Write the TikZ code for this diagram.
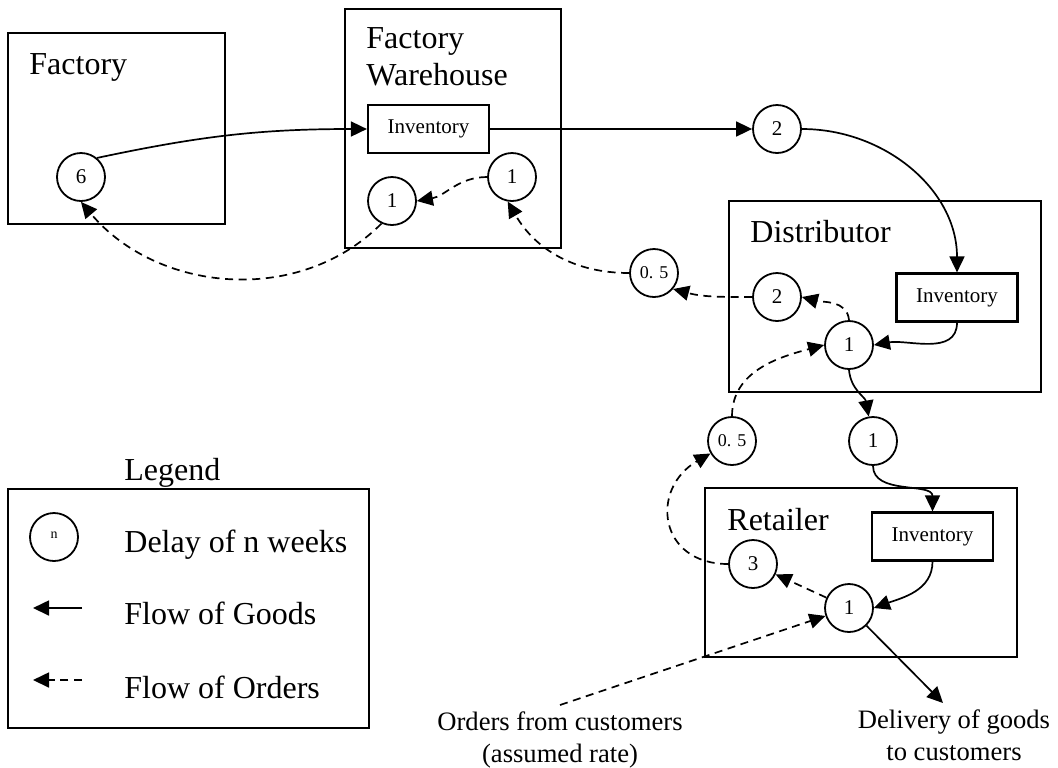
\documentclass[tikz,border=0pt]{standalone}
\usepackage{fontspec}
\setmainfont{Liberation Serif}
\usetikzlibrary{arrows.meta}

\begin{document}
\begin{tikzpicture}[x=0.5pt,y=0.5pt,
  unitbox/.style={line width=1.3pt},
  stockbox/.style={draw,line width=1.1pt,minimum width=60.5pt,minimum height=24pt,inner sep=0pt,font=\fontsize{10.5}{12}\selectfont},
  delay/.style={draw,circle,line width=0.9pt,minimum size=24pt,inner sep=0pt,font=\fontsize{10.5}{12}\selectfont},
  halfdelay/.style={delay,font=\fontsize{9}{10}\selectfont},
  boxlabel/.style={anchor=base west,inner sep=0pt,align=left,font=\fontsize{16}{18.5}\selectfont},
  endnote/.style={anchor=north,align=center,inner sep=3pt,font=\fontsize{13.3}{16}\selectfont},
  goods/.style={line width=0.85pt,-{Triangle[length=8pt,width=7.5pt]}},
  orders/.style={goods,dash pattern=on 4pt off 2.8pt}]
  \useasboundingbox (0,0) rectangle (1058,-767);

  % the four units of the chain
  \draw[unitbox] (8,-33) rectangle (225,-224);
  \draw[unitbox] (345,-9) rectangle (561,-248);
  \draw[unitbox] (729,-201) rectangle (1041,-392);
  \draw[unitbox] (705,-488) rectangle (1017,-657);
  \node[boxlabel] (facName) at (29,-74) {Factory};
  \node[boxlabel] (fwName) at (366,-85) {Factory\\Warehouse};
  \node[boxlabel] (distName) at (750,-242) {Distributor};
  \node[boxlabel] (retName) at (727,-530) {Retailer};

  % stocks
  \node[stockbox] (fwInv) at (428.5,-129) {Inventory};
  \node[stockbox] (distInv) at (957,-297.5) {Inventory};
  \node[stockbox] (retInv) at (932.5,-536.5) {Inventory};

  % delays (weeks)
  \node[delay] (facDelay) at (81,-177) {6};
  \node[delay] (fwOrdIn) at (392,-201) {1};
  \node[delay] (fwOrdOut) at (512,-177) {1};
  \node[delay] (fwShip) at (777,-129) {2};
  \node[halfdelay] (distMail) at (654,-273) {0. 5};
  \node[delay] (distOrd) at (777,-297) {2};
  \node[delay] (distOut) at (849,-345) {1};
  \node[delay] (distShip) at (873,-441) {1};
  \node[halfdelay] (retMail) at (732,-441) {0. 5};
  \node[delay] (retOrd) at (753,-564) {3};
  \node[delay] (retOut) at (849,-608) {1};

  \node[endnote] (custOrders) at (560,-705) {Orders from customers\\(assumed rate)};
  \node[endnote] (custGoods) at (954,-703) {Delivery of goods\\to customers};

  % goods going downstream
  \draw[goods] (facDelay.50) to[out=12,in=180] (fwInv.west);
  \draw[goods] (fwInv.east) -- (fwShip.west);
  \draw[goods] (fwShip.east) to[out=0,in=90] (distInv.north);
  \draw[goods] (distInv.south) to[out=-90,in=10] (distOut.east);
  \draw[goods] (distOut.south) to[out=-85,in=100] (distShip);
  \draw[goods] (distShip.south) to[out=-90,in=90] (retInv.north);
  \draw[goods] (retInv.south) to[out=-90,in=20] (retOut.east);
  \draw[goods] (retOut) -- ([xshift=-5.5pt]custGoods.north);

  % orders going upstream
  \draw[orders] (custOrders.north) -- (retOut);
  \draw[orders] (retOut) -- (retOrd);
  \draw[orders] (retOrd.west) to[out=180,in=210,looseness=1.6] (retMail);
  \draw[orders] (retMail.north) to[out=90,in=195] (distOut.west);
  \draw[orders] (distOut.north) to[out=95,in=-15] (distOrd.east);
  \draw[orders] (distOrd.west) to[out=180,in=-15] (distMail.-40);
  \draw[orders] (distMail.west) to[out=180,in=-60] (fwOrdOut.-100);
  \draw[orders] (fwOrdOut.west) to[out=180,in=10] (fwOrdIn.east);
  \draw[orders] (fwOrdIn.-115) to[out=-135,in=-50] (facDelay.south);

  % legend
  \node[boxlabel] (keyTitle) at (124,-480) {Legend};
  \draw[unitbox] (8,-489) rectangle (369,-728);
  \node[delay,font=\fontsize{7}{8}\selectfont] (keyDelay) at (54,-537) {\raisebox{2pt}{n}};
  \node[boxlabel] (keyDelayText) at (124,-552) {Delay of n weeks};
  \coordinate (keyGoodsA) at (82,-608);
  \coordinate (keyGoodsB) at (33,-608);
  \draw[goods] (keyGoodsA) -- (keyGoodsB);
  \node[boxlabel] (keyGoodsText) at (124,-624) {Flow of Goods};
  \coordinate (keyOrdersA) at (82,-680);
  \coordinate (keyOrdersB) at (33,-680);
  \draw[orders] (keyOrdersA) -- (keyOrdersB);
  \node[boxlabel] (keyOrdersText) at (124,-698) {Flow of Orders};
\end{tikzpicture}
\end{document}
